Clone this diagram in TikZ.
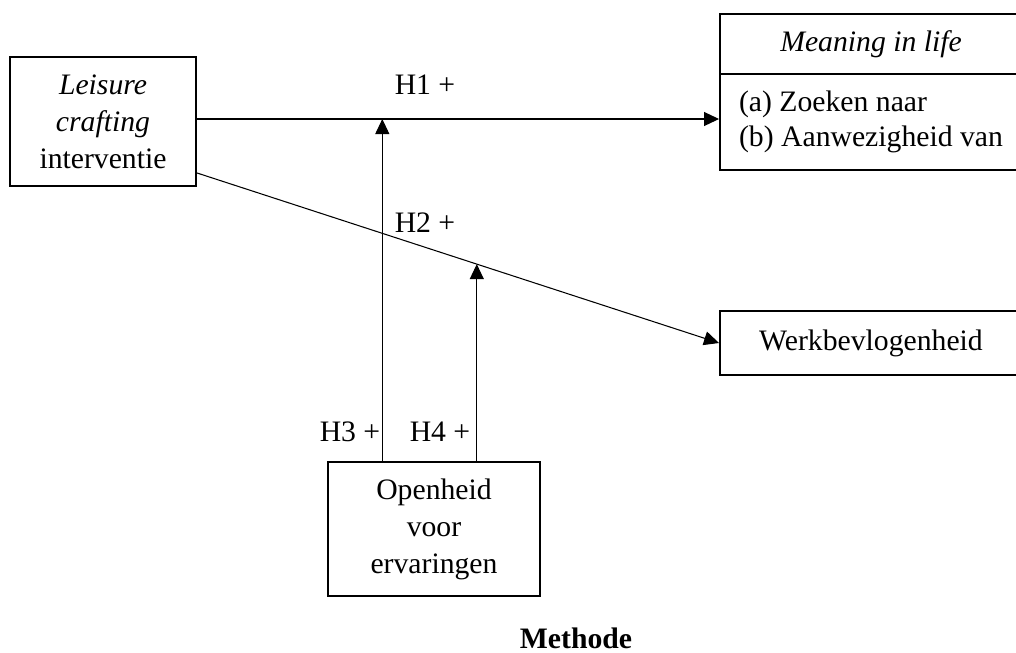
\documentclass[tikz,border=0pt]{standalone}
\usepackage{fontspec}
\setmainfont{Liberation Serif}
\usetikzlibrary{positioning,arrows.meta,calc}
\tikzset{
  >={Triangle[length=3mm,width=2.8mm]},
}

\begin{document}
\begin{tikzpicture}[
  every node/.style={font=\fontsize{16.9}{21}\selectfont},
  box/.style={draw,line width=1.1pt,align=center,inner sep=2pt},
  wide/.style={box,minimum width=6.04cm},
  lab/.style={inner sep=1pt},
  arr/.style={->,line width=0.6pt},
  title/.style={font=\fontsize{16.9}{21}\selectfont\bfseries}
]
\useasboundingbox (0,0) rectangle (20.32,-13.04);

% boxes
\node[box,minimum width=3.72cm,minimum height=2.58cm] (lc) at (2.06,-2.43)
  {\textit{Leisure}\\\textit{crafting}\\interventie};

\node[wide,minimum height=1.2cm] (mih) at (17.42,-0.88) {\textit{Meaning in life}};
\node[wide,minimum height=1.92cm,align=left,
      font=\fontsize{16.9}{20}\selectfont] (mib) at (17.42,-2.44)
  {(a) Zoeken naar\\(b) Aanwezigheid van};

\node[wide,minimum height=1.28cm] (wb) at (17.42,-6.86) {Werkbevlogenheid};

\node[box,minimum width=4.24cm,minimum height=2.68cm] (op) at (8.68,-10.58)
  {Openheid\\voor\\ervaringen};

\node[title,anchor=base] (meth) at (11.52,-12.96) {Methode};

% direct effects
\coordinate (h1s) at ([yshift=0.05cm]lc.east);
\coordinate (h1e) at (h1s -| mib.west);
\draw[arr] (h1s) -- (h1e);

\coordinate (h2s) at ([yshift=0.28cm]lc.south east);
\draw[arr] (h2s) -- (wb.west);

% moderation
\coordinate (m1) at ($(h1s)!0.355!(h1e)$);
\coordinate (m2) at ($(h2s)!0.536!(wb.west)$);
\draw[arr] (op.north -| m1) -- (m1);
\draw[arr] (op.north -| m2) -- (m2);

\node[lab] (l1) at (8.5,-1.7) {H1 +};
\node[lab] (l2) at (8.5,-4.46) {H2 +};
\node[lab] (l3) at (7.0,-8.64) {H3 +};
\node[lab] (l4) at (8.8,-8.64) {H4 +};

\end{tikzpicture}
\end{document}
